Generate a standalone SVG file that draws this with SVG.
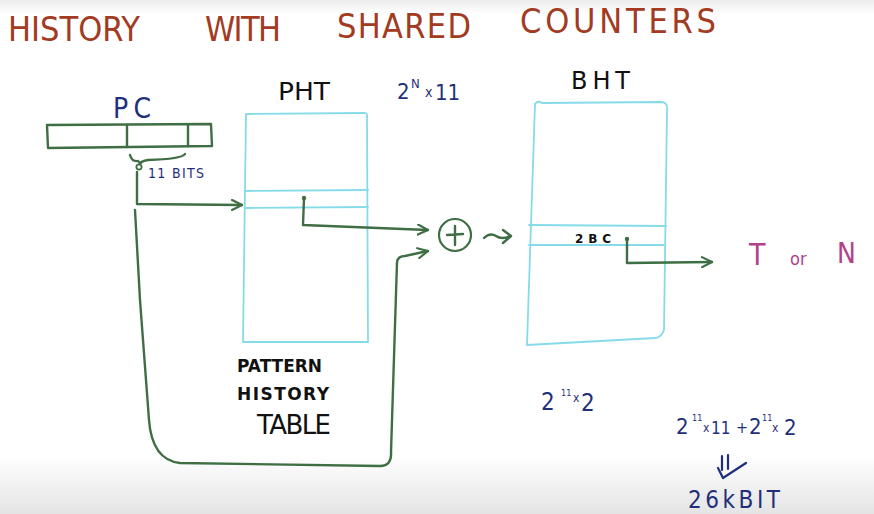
<svg xmlns="http://www.w3.org/2000/svg" width="874" height="514" viewBox="0 0 874 514">
<defs>
<linearGradient id="fadeB" x1="0" y1="0" x2="0" y2="1">
<stop offset="0" stop-color="#ffffff"/>
<stop offset="1" stop-color="#e4e4e4"/>
</linearGradient>
<linearGradient id="fadeT" x1="0" y1="0" x2="0" y2="1">
<stop offset="0" stop-color="#ececec"/>
<stop offset="1" stop-color="#ffffff"/>
</linearGradient>
<marker id="ah" viewBox="0 0 12 12" refX="11" refY="6" markerWidth="12" markerHeight="12" markerUnits="userSpaceOnUse" orient="auto">
<path d="M1,1 L11,6 L1,11" fill="none" stroke="#3f6e44" stroke-width="2.2" stroke-linecap="round" stroke-linejoin="round"/>
</marker>
<style>
.t{font-family:"DejaVu Sans","Liberation Sans",sans-serif}
.n{font-family:"Liberation Sans Narrow","DejaVu Sans Condensed","Liberation Sans",sans-serif}
.title{fill:#a33a22;font-size:34px}
.navy{fill:#1f2f7a}
.blk{fill:#111111}
.mag{fill:#b2418c}
.cy{fill:none;stroke:#86dbe9;stroke-width:1.8;stroke-linecap:round;stroke-linejoin:round}
.gr{fill:none;stroke:#3f6e44;stroke-width:2.4;stroke-linecap:round;stroke-linejoin:round}
.nv{fill:none;stroke:#1f2f7a;stroke-width:2.2;stroke-linecap:round;stroke-linejoin:round}
</style>
</defs>
<rect x="0" y="0" width="874" height="514" fill="#ffffff"/>
<rect x="0" y="0" width="874" height="14" fill="url(#fadeT)"/>
<rect x="0" y="455" width="874" height="59" fill="url(#fadeB)"/>

<g id="title" class="n title">
<text x="8" y="41" textLength="132" lengthAdjust="spacing">HISTORY</text>
<text x="205" y="41" textLength="76" lengthAdjust="spacing">WITH</text>
<text x="337" y="38" textLength="134" lengthAdjust="spacing">SHARED</text>
<text x="520" y="33" textLength="196" lengthAdjust="spacing">COUNTERS</text>
</g>

<g id="pc">
<text class="n navy" x="113" y="118" font-size="28" textLength="38" lengthAdjust="spacing">PC</text>
<path class="gr" d="M47,125 L211,124 L212,146 L48,148 Z"/>
<path class="gr" d="M127,125 L127,147 M188,125 L188,146"/>
<path class="gr" d="M130,155 Q132,162 138,161 Q140,162 140,164 M140,164 Q141,161 148,160 Q182,159 185,154" stroke-width="2"/>
<circle cx="139" cy="167" r="2.6" fill="none" stroke="#3f6e44" stroke-width="1.8"/>
<text class="n navy" x="148" y="178" font-size="14" textLength="56" lengthAdjust="spacing">11 BITS</text>
</g>

<g id="pht">
<text class="t blk" x="278" y="100" font-size="24" textLength="52" lengthAdjust="spacingAndGlyphs">PHT</text>
<path class="cy" d="M247,114 L365,113 Q368,114 367,118 L368,342 L243,342 L246,114"/>
<path class="cy" d="M245,191 L368,190 M245,208 L368,207"/>
<g class="n navy">
<text x="397" y="99" font-size="22">2</text>
<text x="411" y="88" font-size="13">N</text>
<text x="425" y="97" font-size="14">x</text>
<text x="435" y="100" font-size="22">11</text>
</g>
<g class="t blk" font-weight="bold">
<text x="237" y="372" font-size="17" textLength="85" lengthAdjust="spacingAndGlyphs">PATTERN</text>
<text x="237" y="400" font-size="17" textLength="92" lengthAdjust="spacing">HISTORY</text>
<text x="257" y="434" font-size="26" font-weight="normal" textLength="74" lengthAdjust="spacing">TABLE</text>
</g>
</g>

<g id="xor">
<circle cx="455" cy="235" r="16" fill="none" stroke="#3f6e44" stroke-width="2.2"/>
<path class="gr" d="M447,235 L463,234 M455,226 L455,245"/>
</g>

<g id="bht">
<text class="t blk" x="571" y="89" font-size="24" textLength="59" lengthAdjust="spacing">BHT</text>
<path class="cy" d="M535,104 Q538,100 542,103 L662,102 Q668,103 667,110 L664,330 Q661,338 655,338 L527,345 L535,104"/>
<path class="cy" d="M529,225 L666,226 M529,245 L664,245"/>
<text class="t blk" x="575" y="243" font-size="12" font-weight="bold" textLength="36" lengthAdjust="spacing">2BC</text>
<g class="n navy">
<text x="541" y="410" font-size="24">2</text>
<text x="561" y="396" font-size="9">11</text>
<text x="573" y="402" font-size="12">x</text>
<text x="581" y="411" font-size="24">2</text>
</g>
</g>

<g id="output" class="n mag">
<text x="749" y="265" font-size="30">T</text>
<text x="790" y="265" font-size="18">or</text>
<text x="837" y="263" font-size="28">N</text>
</g>

<g id="total" class="n navy">
<text x="676" y="434" font-size="22">2</text>
<text x="692" y="421" font-size="9">11</text>
<text x="703" y="432" font-size="12">x</text>
<text x="711" y="434" font-size="17">11</text>
<text x="736" y="433" font-size="16">+</text>
<text x="749" y="434" font-size="22">2</text>
<text x="762" y="421" font-size="9">11</text>
<text x="772" y="432" font-size="12">x</text>
<text x="784" y="435" font-size="22">2</text>
<text x="688" y="508" font-size="24" textLength="92" lengthAdjust="spacing">26kBIT</text>
</g>
<path id="implies" class="nv" d="M722,456 L722,470 M728,455 L728,469 M718,468 L723,478 L746,463"/>

<g id="connectors">
<path class="gr" d="M137,172 L137,204 L242,205" marker-end="url(#ah)"/>
<path class="gr" d="M304,198 L303,225 L428,230" marker-end="url(#ah)"/>
<circle cx="304" cy="198" r="2.2" fill="#3f6e44"/>
<path class="gr" d="M135,210 L140,300 L149,420 Q152,460 180,463 L380,466 Q392,466 391,452 L397,262 Q398,256 405,256 L428,251" marker-end="url(#ah)"/>
<path class="gr" d="M484,238 Q490,232 496,236 Q502,240 510,236 M503,230 L511,236 L503,243" stroke-width="2"/>
<path class="gr" d="M627,239 L627,263 L712,262" marker-end="url(#ah)"/>
<circle cx="627" cy="239" r="2.2" fill="#3f6e44"/>
</g>
</svg>
